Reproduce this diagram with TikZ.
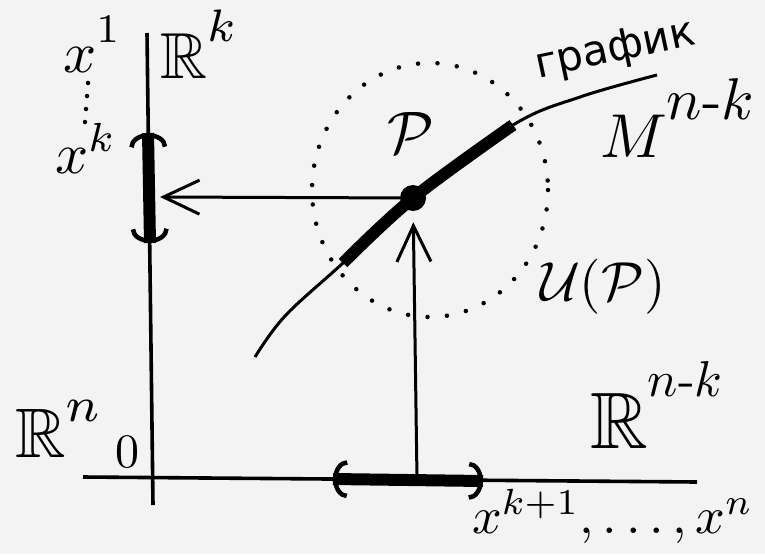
\documentclass[tikz,border=0pt]{standalone}
\usepackage{amssymb}
\usepackage{fontspec}
\newfontfamily\cyrfont{DejaVu Sans}
\usetikzlibrary{arrows.meta}
\definecolor{paper}{RGB}{243,243,243}
\newcommand{\supr}[3]{\raisebox{#1}{\scalebox{#2}{#3}}}
\begin{document}
\begin{tikzpicture}[x=1pt,y=-1pt,
  lab/.style={inner sep=0pt,outer sep=0pt,anchor=base west},
  axisline/.style={line width=3.6pt},
  curveline/.style={line width=3pt},
  thickseg/.style={line width=12pt},
  arrowline/.style={line width=3pt,-{Straight Barb[length=36pt,width=34pt]}},
  barbs/.style={line width=4.5pt,{Arc Barb[length=14pt,width=38pt]}-{Arc Barb[length=14pt,width=38pt]}},
  dotline/.style={line width=4.5pt,line cap=round,dash pattern=on 0pt off 19.5pt},
  bigdot/.style={circle,fill,inner sep=0pt,minimum size=26pt},
  smalldot/.style={circle,fill,inner sep=0pt,minimum size=4.5pt}]
\fill[paper] (0,0) rectangle (765,554);
\useasboundingbox (0,0) rectangle (765,554);
% axes
\coordinate (vtop) at (147,33);
\coordinate (vbot) at (153,505);
\coordinate (hleft) at (83,477);
\coordinate (hright) at (697,482);
\draw[axisline] (vtop) -- (vbot);
\draw[axisline] (hleft) -- (hright);
% neighbourhood U(P)
\draw[dotline] (430,190) ellipse [x radius=118, y radius=127];
% graph curve
\draw[curveline] plot[smooth,tension=0.6] coordinates {(255,357) (285,316) (343,263) (413,198) (513,125) (580,97) (657,75)};
\draw[thickseg] plot[smooth,tension=0.6] coordinates {(343,263) (413,198) (513,125)};
\node[bigdot] (P) at (413,198) {};
% projections
\coordinate (hb) at (160,197);
\coordinate (vb) at (417,479);
\draw[arrowline] (P) -- (hb);
\draw[arrowline,shorten >=11pt] (vb) -- (P);
% thick intervals on axes
\coordinate (ka) at (148,133);
\coordinate (kb) at (150,243);
\draw[thickseg] (ka) -- (kb);
\draw[barbs] (ka) -- (kb);
\coordinate (la) at (333,479);
\coordinate (lb) at (483,481);
\draw[thickseg] (la) -- (lb);
\draw[barbs] (la) -- (lb);
% vertical dots between x^1 and x^k
\node[smalldot] (d1) at (88,83) {};
\node[smalldot] (d2) at (87,96) {};
\node[smalldot] (d3) at (86,109) {};
\node[smalldot] (d4) at (85,122) {};
% labels
\node[lab,scale=5.8] (x1) at (63,72) {$x^{\raisebox{1.5pt}{$\scriptstyle 1$}}$};
\node[lab,scale=5.8] (xk) at (55,173) {$x^{k}$};
\node[lab,scale=6.5] (Rk) at (160,78) {$\mathbb{R}^{\raisebox{2pt}{$\scriptstyle k$}}$};
\node[lab,scale=6] (Plab) at (387,153) {$\mathcal{P}$};
\node[lab,scale=4.2,rotate=12] (graf) at (538,78) {\cyrfont график};
\node[lab,scale=6.2] (M) at (600,157) {$M^{\supr{2.5pt}{0.95}{$n$-$k$}}$};
\node[lab,scale=5.5] (U) at (540,300) {$\mathcal{U}(\mathcal{P})$};
\node[lab,scale=8] (Rnk) at (590,448) {$\mathbb{R}^{\supr{2.8pt}{0.63}{$n$-$k$}}$};
\node[lab,scale=7] (Rn) at (15,457) {$\mathbb{R}^{\raisebox{1.5pt}{$\scriptstyle n$}}$};
\node[lab,scale=4.8] (zero) at (115,467) {$0$};
\node[lab,scale=5.2] (xs) at (472,533) {$x^{k+1},\ldots,x^n$};
\end{tikzpicture}
\end{document}
